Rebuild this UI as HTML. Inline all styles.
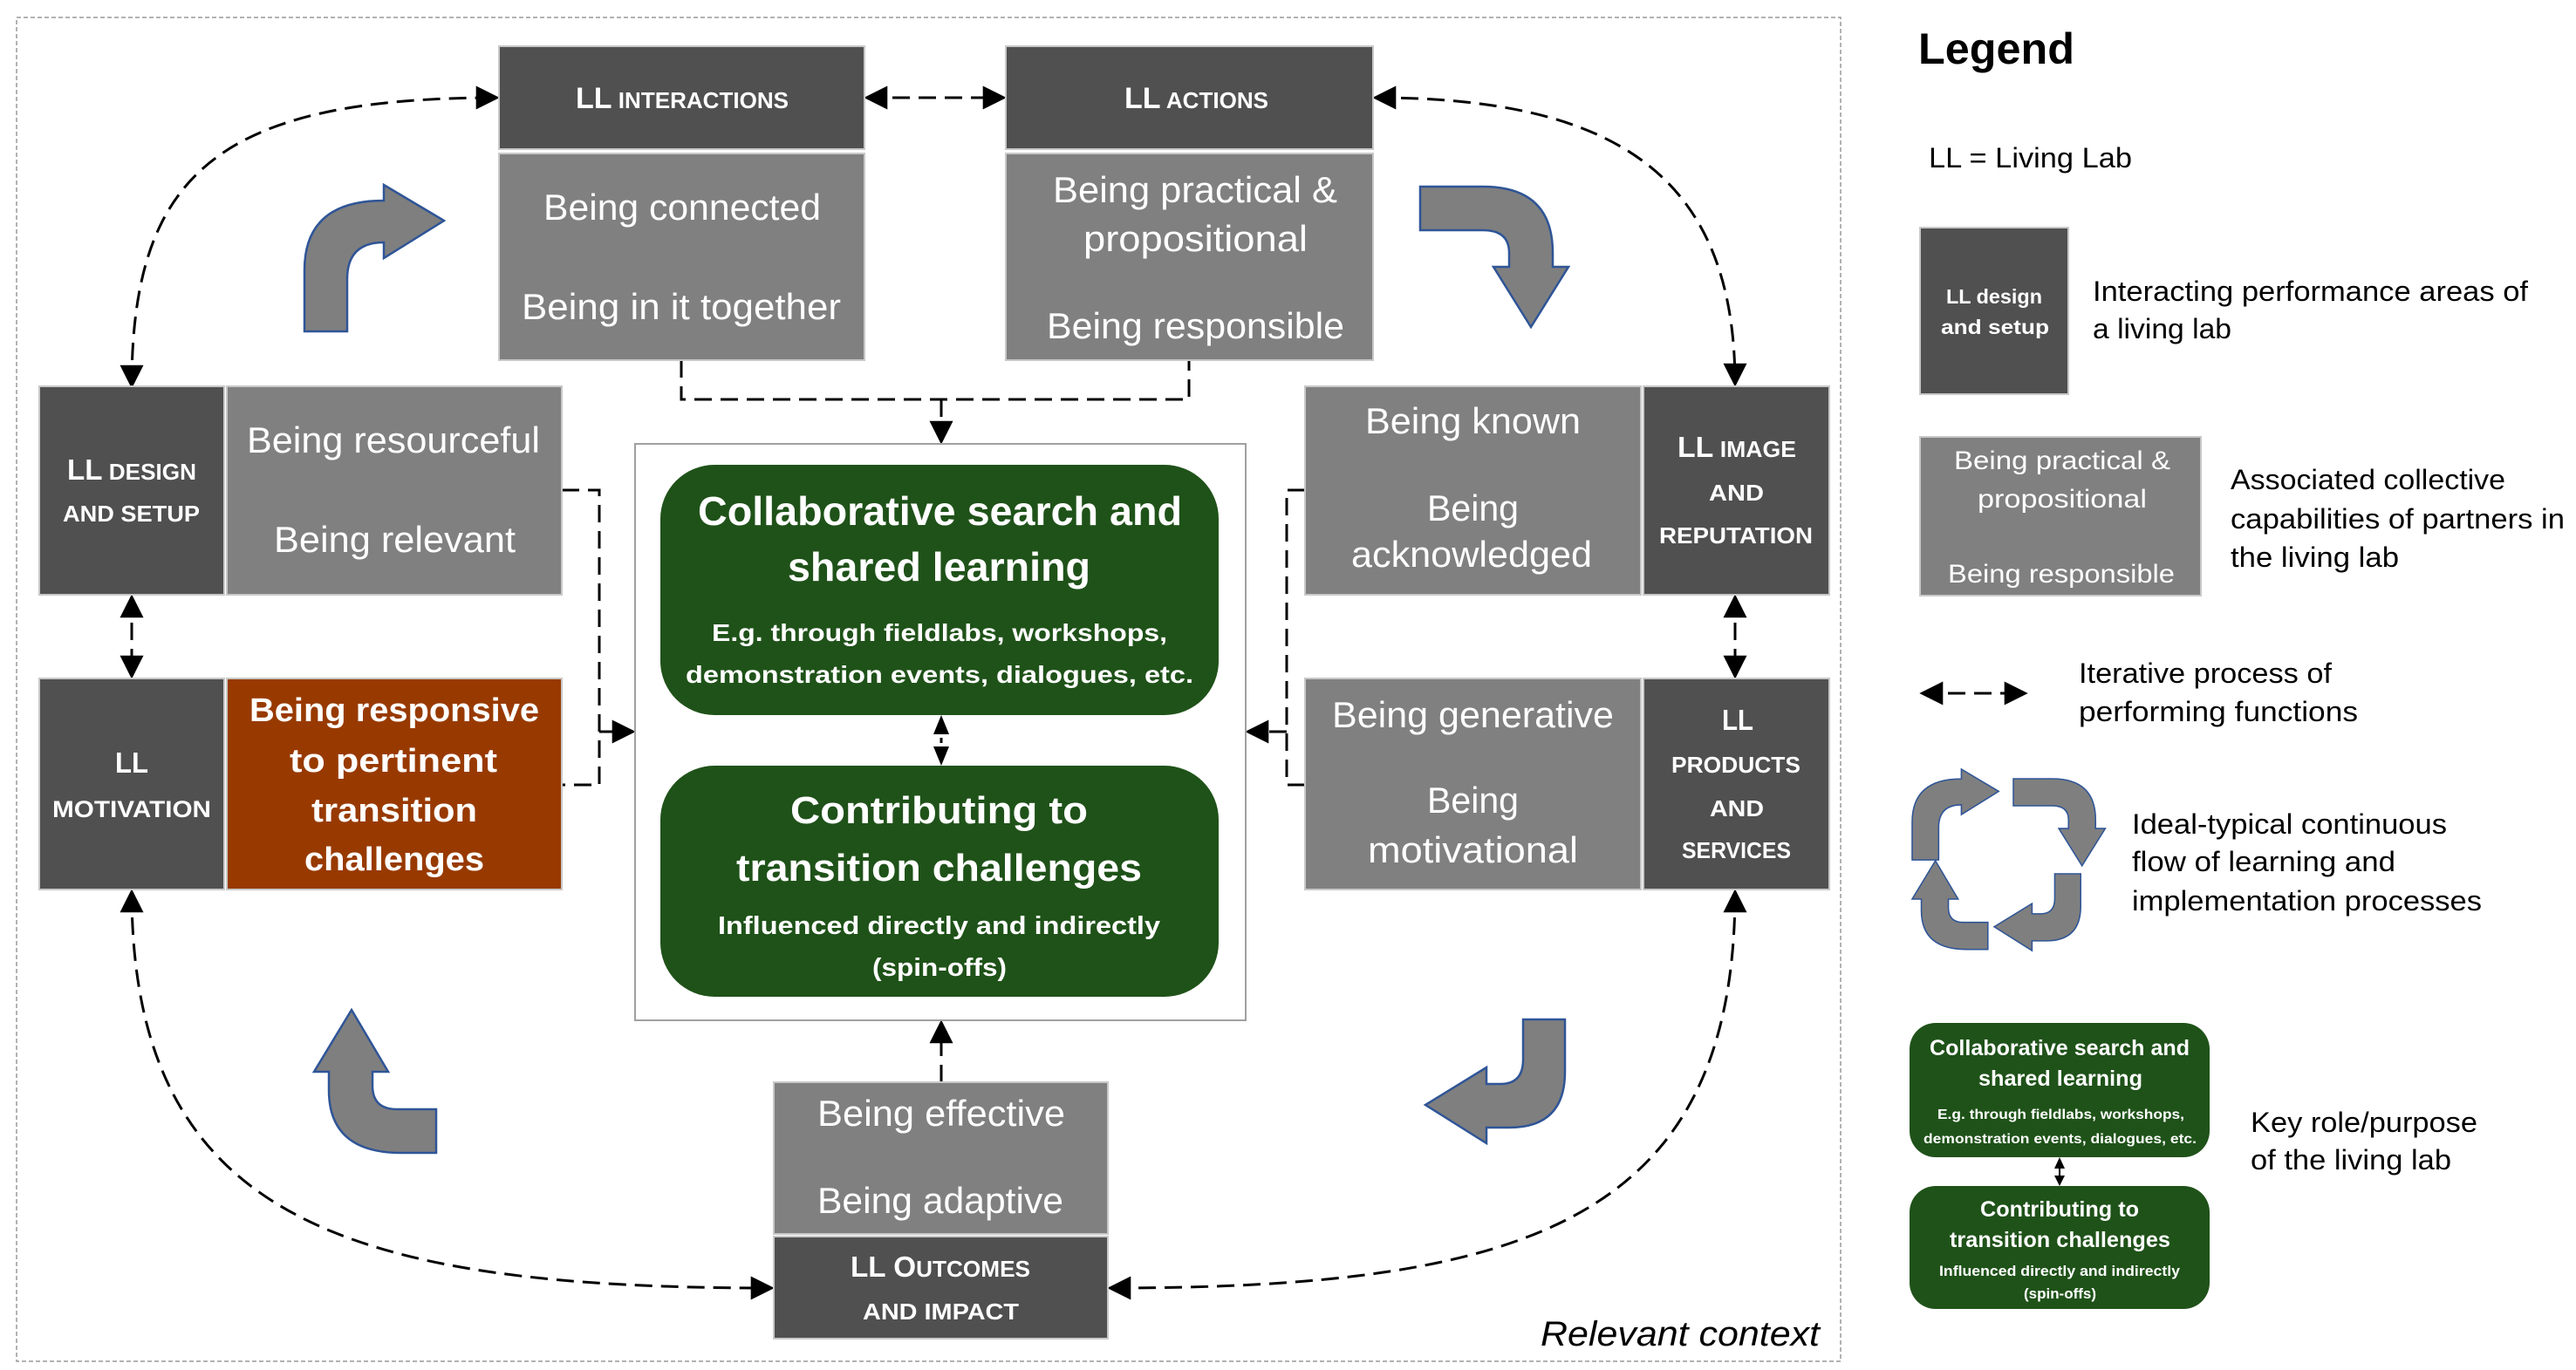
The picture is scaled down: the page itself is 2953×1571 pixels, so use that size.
<!DOCTYPE html>
<html><head><meta charset="utf-8"><style>html,body{margin:0;padding:0;background:#fff}svg{display:block}text{font-family:"Liberation Sans",sans-serif}</style></head><body>
<svg width="2953" height="1571" viewBox="0 0 2953 1571" xmlns="http://www.w3.org/2000/svg">
<defs>
<marker id="ah" viewBox="0 0 10 10" refX="9" refY="5" markerWidth="9" markerHeight="9" markerUnits="strokeWidth" orient="auto-start-reverse"><path d="M0,0 L10,5 L0,10 Z" fill="#000"/></marker>
</defs>
<rect x="19" y="20" width="2091" height="1541" fill="none" stroke="#999" stroke-width="1.5" stroke-dasharray="5 3"/>

<!-- connectors -->
<g fill="none" stroke="#000" stroke-width="3" stroke-dasharray="20 10">
<path d="M151,443 C151,200 250,112 570,112" marker-start="url(#ah)" marker-end="url(#ah)"/>
<path d="M1576,112 C1850,112 1989,200 1989,441" marker-start="url(#ah)" marker-end="url(#ah)"/>
<path d="M993,112 L1151,112" marker-start="url(#ah)" marker-end="url(#ah)"/>
<path d="M151,684 L151,776" marker-start="url(#ah)" marker-end="url(#ah)"/>
<path d="M1989,684 L1989,776" marker-start="url(#ah)" marker-end="url(#ah)"/>
<path d="M151,1022 C151,1400 400,1477 885,1477" marker-start="url(#ah)" marker-end="url(#ah)"/>
<path d="M1989,1022 C1989,1400 1750,1477 1272,1477" marker-start="url(#ah)" marker-end="url(#ah)"/>
<path d="M781,413 V458 H1363 V413"/>
<path d="M1079,458 V507" marker-end="url(#ah)"/>
<path d="M644,562 H687 V900 H644"/>
<path d="M687,839 H726" marker-end="url(#ah)"/>
<path d="M1496,562 H1475 V900 H1496"/>
<path d="M1475,839 H1430" marker-end="url(#ah)"/>
<path d="M1079,1241 V1172" marker-end="url(#ah)"/>
<path d="M2203,795 L2322,795" marker-start="url(#ah)" marker-end="url(#ah)"/>
</g>

<!-- center box -->
<rect x="728" y="509" width="700" height="661" fill="#fff" stroke="#a0a0a0" stroke-width="2"/>
<rect x="757" y="533" width="640" height="287" rx="62" fill="#1f5219"/>
<rect x="757" y="878" width="640" height="265" rx="62" fill="#1f5219"/>
<path d="M1079,836 V862" stroke="#000" stroke-width="3" stroke-dasharray="6 4"/>
<path d="M1070,842 L1079,820 L1088,842 Z M1070,856 L1079,878 L1088,856 Z" fill="#000"/>
<path d="M2361,1338 V1350" stroke="#000" stroke-width="2"/>
<path d="M2355,1340 L2361,1327 L2367,1340 Z M2355,1348 L2361,1360 L2367,1348 Z" fill="#000"/>

<!-- boxes -->
<g stroke="#c8c8c8" stroke-width="2">
<rect x="572" y="53" width="419" height="118" fill="#505050"/>
<rect x="572" y="176" width="419" height="237" fill="#808080"/>
<rect x="1153" y="53" width="421" height="118" fill="#505050"/>
<rect x="1153" y="176" width="421" height="237" fill="#808080"/>
<rect x="45" y="443" width="212" height="239" fill="#505050"/>
<rect x="260" y="443" width="384" height="239" fill="#808080"/>
<rect x="45" y="778" width="212" height="242" fill="#505050"/>
<rect x="260" y="778" width="384" height="242" fill="#983a00"/>
<rect x="1496" y="443" width="385" height="239" fill="#808080"/>
<rect x="1884" y="443" width="213" height="239" fill="#505050"/>
<rect x="1496" y="778" width="385" height="242" fill="#808080"/>
<rect x="1884" y="778" width="213" height="242" fill="#505050"/>
<rect x="887" y="1241" width="383" height="174" fill="#808080"/>
<rect x="887" y="1418" width="383" height="117" fill="#505050"/>
<rect x="2201" y="261" width="170" height="191" fill="#505050"/>
<rect x="2201" y="501" width="322" height="182" fill="#808080"/>
</g>
<rect x="2189" y="1173" width="344" height="154" rx="30" fill="#1f5219"/>
<rect x="2189" y="1360" width="344" height="141" rx="30" fill="#1f5219"/>

<!-- gray curved arrows -->
<g fill="#7f7f7f" stroke="#2f5597" stroke-width="2.5">
<path d="M349,380 L349,310 Q349,230 440,230 L440,212 L509,253 L440,296 L440,278 Q398,278 398,320 L398,380 Z"/>
<path d="M1628,214 L1700,214 Q1780,214 1780,290 L1780,306 L1798,306 L1755,375 L1712,306 L1730,306 L1730,290 Q1730,264 1700,264 L1628,264 Z"/>
<path d="M1746,1169 L1794,1169 L1794,1229 Q1794,1293 1730,1293 L1704,1293 L1704,1311 L1634,1267 L1704,1224 L1704,1243 L1720,1243 Q1746,1243 1746,1215 Z"/>
<path d="M403,1158 L445,1229 L427,1229 L427,1245 Q427,1272 455,1272 L500,1272 L500,1322 L460,1322 Q377,1322 377,1250 L377,1229 L360,1229 Z"/>
<path transform="translate(2192,882) scale(0.62) translate(-349,-212)" d="M349,380 L349,310 Q349,230 440,230 L440,212 L509,253 L440,296 L440,278 Q398,278 398,320 L398,380 Z"/>
<path transform="translate(2308,893) scale(0.62) translate(-1628,-214)" d="M1628,214 L1700,214 Q1780,214 1780,290 L1780,306 L1798,306 L1755,375 L1712,306 L1730,306 L1730,290 Q1730,264 1700,264 L1628,264 Z"/>
<path transform="translate(2286,1002) scale(0.62) translate(-1634,-1169)" d="M1746,1169 L1794,1169 L1794,1229 Q1794,1293 1730,1293 L1704,1293 L1704,1311 L1634,1267 L1704,1224 L1704,1243 L1720,1243 Q1746,1243 1746,1215 Z"/>
<path transform="translate(2192,987) scale(0.62) translate(-360,-1158)" d="M403,1158 L445,1229 L427,1229 L427,1245 Q427,1272 455,1272 L500,1272 L500,1322 L460,1322 Q377,1322 377,1250 L377,1229 L360,1229 Z"/>
</g>

<!-- texts -->
<g fill="#fff" font-weight="bold">
<text x="660" y="124" textLength="244" lengthAdjust="spacingAndGlyphs"><tspan font-size="34">LL</tspan><tspan font-size="26"> INTERACTIONS</tspan></text>
<text x="1289" y="124" textLength="165" lengthAdjust="spacingAndGlyphs"><tspan font-size="34">LL</tspan><tspan font-size="26"> ACTIONS</tspan></text>
<text x="77" y="550" textLength="148" lengthAdjust="spacingAndGlyphs"><tspan font-size="33">LL</tspan><tspan font-size="26"> DESIGN</tspan></text>
<text x="72" y="598" textLength="157" lengthAdjust="spacingAndGlyphs" font-size="26">AND SETUP</text>
<text x="132" y="886" textLength="38" lengthAdjust="spacingAndGlyphs" font-size="33">LL</text>
<text x="60" y="937" textLength="182" lengthAdjust="spacingAndGlyphs" font-size="27">MOTIVATION</text>
<text x="1923" y="524" textLength="136" lengthAdjust="spacingAndGlyphs"><tspan font-size="33">LL</tspan><tspan font-size="26"> IMAGE</tspan></text>
<text x="1959" y="574" textLength="63" lengthAdjust="spacingAndGlyphs" font-size="26">AND</text>
<text x="1902" y="623" textLength="176" lengthAdjust="spacingAndGlyphs" font-size="26">REPUTATION</text>
<text x="1974" y="837" textLength="36" lengthAdjust="spacingAndGlyphs" font-size="33">LL</text>
<text x="1916" y="886" textLength="148" lengthAdjust="spacingAndGlyphs" font-size="26">PRODUCTS</text>
<text x="1960" y="936" textLength="62" lengthAdjust="spacingAndGlyphs" font-size="26">AND</text>
<text x="1928" y="984" textLength="125" lengthAdjust="spacingAndGlyphs" font-size="26">SERVICES</text>
<text x="975" y="1464" textLength="206" lengthAdjust="spacingAndGlyphs"><tspan font-size="33">LL O</tspan><tspan font-size="26">UTCOMES</tspan></text>
<text x="989" y="1513" textLength="179" lengthAdjust="spacingAndGlyphs" font-size="26">AND IMPACT</text>
<text x="286" y="827" textLength="332" lengthAdjust="spacingAndGlyphs" font-size="38">Being responsive</text>
<text x="332" y="885" textLength="238" lengthAdjust="spacingAndGlyphs" font-size="38">to pertinent</text>
<text x="357" y="942" textLength="190" lengthAdjust="spacingAndGlyphs" font-size="38">transition</text>
<text x="349" y="998" textLength="206" lengthAdjust="spacingAndGlyphs" font-size="38">challenges</text>
<text x="800" y="602" textLength="555" lengthAdjust="spacingAndGlyphs" font-size="46">Collaborative search and</text>
<text x="903" y="666" textLength="347" lengthAdjust="spacingAndGlyphs" font-size="46">shared learning</text>
<text x="816" y="735" textLength="522" lengthAdjust="spacingAndGlyphs" font-size="28">E.g. through fieldlabs, workshops,</text>
<text x="786" y="783" textLength="582" lengthAdjust="spacingAndGlyphs" font-size="28">demonstration events, dialogues, etc.</text>
<text x="906" y="944" textLength="341" lengthAdjust="spacingAndGlyphs" font-size="44">Contributing to</text>
<text x="844" y="1010" textLength="465" lengthAdjust="spacingAndGlyphs" font-size="44">transition challenges</text>
<text x="823" y="1071" textLength="507" lengthAdjust="spacingAndGlyphs" font-size="29">Influenced directly and indirectly</text>
<text x="1000" y="1119" textLength="154" lengthAdjust="spacingAndGlyphs" font-size="29">(spin-offs)</text>
<text x="2212" y="1210" textLength="298" lengthAdjust="spacingAndGlyphs" font-size="25">Collaborative search and</text>
<text x="2268" y="1245" textLength="188" lengthAdjust="spacingAndGlyphs" font-size="25">shared learning</text>
<text x="2221" y="1283" textLength="283" lengthAdjust="spacingAndGlyphs" font-size="16">E.g. through fieldlabs, workshops,</text>
<text x="2205" y="1311" textLength="313" lengthAdjust="spacingAndGlyphs" font-size="16">demonstration events, dialogues, etc.</text>
<text x="2270" y="1395" textLength="182" lengthAdjust="spacingAndGlyphs" font-size="25">Contributing to</text>
<text x="2235" y="1430" textLength="253" lengthAdjust="spacingAndGlyphs" font-size="25">transition challenges</text>
<text x="2223" y="1463" textLength="276" lengthAdjust="spacingAndGlyphs" font-size="17">Influenced directly and indirectly</text>
<text x="2320" y="1489" textLength="83" lengthAdjust="spacingAndGlyphs" font-size="17">(spin-offs)</text>
<text x="2231" y="348" textLength="110" lengthAdjust="spacingAndGlyphs" font-size="23">LL design</text>
<text x="2225" y="383" textLength="124" lengthAdjust="spacingAndGlyphs" font-size="23">and setup</text>
</g>
<g fill="#fff" font-size="42">
<text x="623" y="252" textLength="318" lengthAdjust="spacingAndGlyphs">Being connected</text>
<text x="598" y="366" textLength="366" lengthAdjust="spacingAndGlyphs">Being in it together</text>
<text x="1207" y="232" textLength="326" lengthAdjust="spacingAndGlyphs">Being practical &amp;</text>
<text x="1242" y="288" textLength="257" lengthAdjust="spacingAndGlyphs">propositional</text>
<text x="1200" y="388" textLength="341" lengthAdjust="spacingAndGlyphs">Being responsible</text>
<text x="283" y="519" textLength="336" lengthAdjust="spacingAndGlyphs">Being resourceful</text>
<text x="314" y="633" textLength="277" lengthAdjust="spacingAndGlyphs">Being relevant</text>
<text x="1565" y="497" textLength="247" lengthAdjust="spacingAndGlyphs">Being known</text>
<text x="1636" y="597" textLength="105" lengthAdjust="spacingAndGlyphs">Being</text>
<text x="1549" y="650" textLength="276" lengthAdjust="spacingAndGlyphs">acknowledged</text>
<text x="1527" y="834" textLength="323" lengthAdjust="spacingAndGlyphs">Being generative</text>
<text x="1636" y="932" textLength="105" lengthAdjust="spacingAndGlyphs">Being</text>
<text x="1568" y="989" textLength="241" lengthAdjust="spacingAndGlyphs">motivational</text>
<text x="937" y="1291" textLength="284" lengthAdjust="spacingAndGlyphs">Being effective</text>
<text x="937" y="1391" textLength="282" lengthAdjust="spacingAndGlyphs">Being adaptive</text>
<text x="2240" y="538" textLength="248" font-size="30" lengthAdjust="spacingAndGlyphs">Being practical &amp;</text>
<text x="2267" y="582" textLength="194" font-size="30" lengthAdjust="spacingAndGlyphs">propositional</text>
<text x="2233" y="668" textLength="260" font-size="30" lengthAdjust="spacingAndGlyphs">Being responsible</text>
</g>
<g fill="#000" font-size="32">
<text x="2199" y="73" textLength="179" lengthAdjust="spacingAndGlyphs" font-size="50" font-weight="bold">Legend</text>
<text x="2211" y="192" textLength="233" lengthAdjust="spacingAndGlyphs">LL = Living Lab</text>
<text x="2399" y="345" textLength="499" lengthAdjust="spacingAndGlyphs">Interacting performance areas of</text>
<text x="2399" y="388" textLength="159" lengthAdjust="spacingAndGlyphs">a living lab</text>
<text x="2557" y="561" textLength="315" lengthAdjust="spacingAndGlyphs">Associated collective</text>
<text x="2557" y="606" textLength="383" lengthAdjust="spacingAndGlyphs">capabilities of partners in</text>
<text x="2557" y="650" textLength="193" lengthAdjust="spacingAndGlyphs">the living lab</text>
<text x="2383" y="783" textLength="290" lengthAdjust="spacingAndGlyphs">Iterative process of</text>
<text x="2383" y="827" textLength="320" lengthAdjust="spacingAndGlyphs">performing functions</text>
<text x="2444" y="956" textLength="361" lengthAdjust="spacingAndGlyphs">Ideal-typical continuous</text>
<text x="2444" y="999" textLength="302" lengthAdjust="spacingAndGlyphs">flow of learning and</text>
<text x="2444" y="1044" textLength="401" lengthAdjust="spacingAndGlyphs">implementation processes</text>
<text x="2580" y="1298" textLength="260" lengthAdjust="spacingAndGlyphs">Key role/purpose</text>
<text x="2580" y="1341" textLength="230" lengthAdjust="spacingAndGlyphs">of the living lab</text>
<text x="1766" y="1543" textLength="320" lengthAdjust="spacingAndGlyphs" font-size="40" font-style="italic">Relevant context</text>
</g>
</svg>
</body></html>
